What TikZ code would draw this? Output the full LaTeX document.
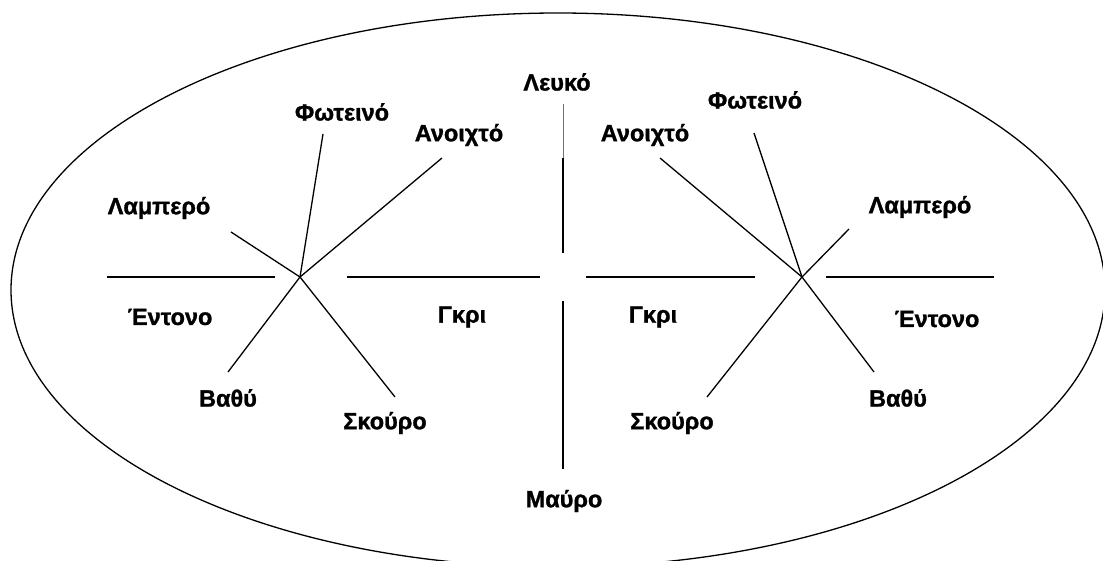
\documentclass[tikz,border=0pt]{standalone}
\usepackage{fontspec}
\setmainfont{Liberation Sans}[BoldFont={Liberation Sans Bold}]
\newfontfamily\lblfont{Liberation Sans Bold}[FakeBold=1.2]
\begin{document}
\begin{tikzpicture}[x=1pt,y=-1pt,
  lbl/.style={font=\lblfont\fontsize{23.5}{25}\selectfont, inner sep=0pt, anchor=center},
  ln/.style={line width=1.3pt, black},
  thinln/.style={line width=0.6pt, black!55}]
\useasboundingbox (0,0) rectangle (1103,560);
\fill[white] (0,0) rectangle (1103,560);
\clip (0,0) rectangle (1103,560);
\draw[ln] (558,290) ellipse [x radius=547, y radius=277];

% labels
\node[lbl] (leuko) at (557,82) {Λευκό};
\node[lbl] (mavro) at (564,501) {Μαύρο};
\node[lbl] (fotL) at (342,112) {Φωτεινό};
\node[lbl] (anoL) at (459,135) {Ανοιχτό};
\node[lbl] (lamL) at (159,208) {Λαμπερό};
\node[lbl] (entL) at (170,317) {Έντονο};
\node[lbl] (gkrL) at (462,317) {Γκρι};
\node[lbl] (vatL) at (228,398) {Βαθύ};
\node[lbl] (skoL) at (385,423) {Σκούρο};
\node[lbl] (fotR) at (755,100) {Φωτεινό};
\node[lbl] (anoR) at (645,135) {Ανοιχτό};
\node[lbl] (lamR) at (920,207) {Λαμπερό};
\node[lbl] (gkrR) at (653,317) {Γκρι};
\node[lbl] (entR) at (937,319) {Έντονο};
\node[lbl] (skoR) at (672,423) {Σκούρο};
\node[lbl] (vatR) at (898,398) {Βαθύ};

% left star
\coordinate (cL) at (300,277);
\coordinate (hL1) at (107,277);
\coordinate (hL2) at (275,277);
\coordinate (hL3) at (347,277);
\coordinate (hL4) at (540,277);
\coordinate (eFotL) at (323,134);
\coordinate (eAnoL) at (442,158);
\coordinate (eLamL) at (231,232);
\coordinate (eVatL) at (228,372);
\coordinate (eSkoL) at (395,397);
\draw[ln] (hL1) -- (hL2);
\draw[ln] (hL3) -- (hL4);
\draw[ln] (eFotL) -- (cL);
\draw[ln] (eAnoL) -- (cL);
\draw[ln] (eLamL) -- (cL);
\draw[ln] (cL) -- (eVatL);
\draw[ln] (cL) -- (eSkoL);

% right star
\coordinate (cR) at (802,277);
\coordinate (hR1) at (586,277);
\coordinate (hR2) at (755,277);
\coordinate (hR3) at (826,277);
\coordinate (hR4) at (994,277);
\coordinate (eFotR) at (754,133);
\coordinate (eAnoR) at (660,158);
\coordinate (eLamR) at (849,229);
\coordinate (eVatR) at (874,372);
\coordinate (eSkoR) at (707,397);
\draw[ln] (hR1) -- (hR2);
\draw[ln] (hR3) -- (hR4);
\draw[ln] (eFotR) -- (cR);
\draw[ln] (eAnoR) -- (cR);
\draw[ln] (eLamR) -- (cR);
\draw[ln] (cR) -- (eVatR);
\draw[ln] (cR) -- (eSkoR);

% vertical axis
\coordinate (v1) at (563,104);
\coordinate (v2) at (563,158);
\coordinate (v3) at (563,253);
\coordinate (v4) at (563,301);
\coordinate (v5) at (563,469);
\draw[thinln] (v1) -- (v2);
\draw[ln] (v2) -- (v3);
\draw[ln] (v4) -- (v5);
\end{tikzpicture}
\end{document}
